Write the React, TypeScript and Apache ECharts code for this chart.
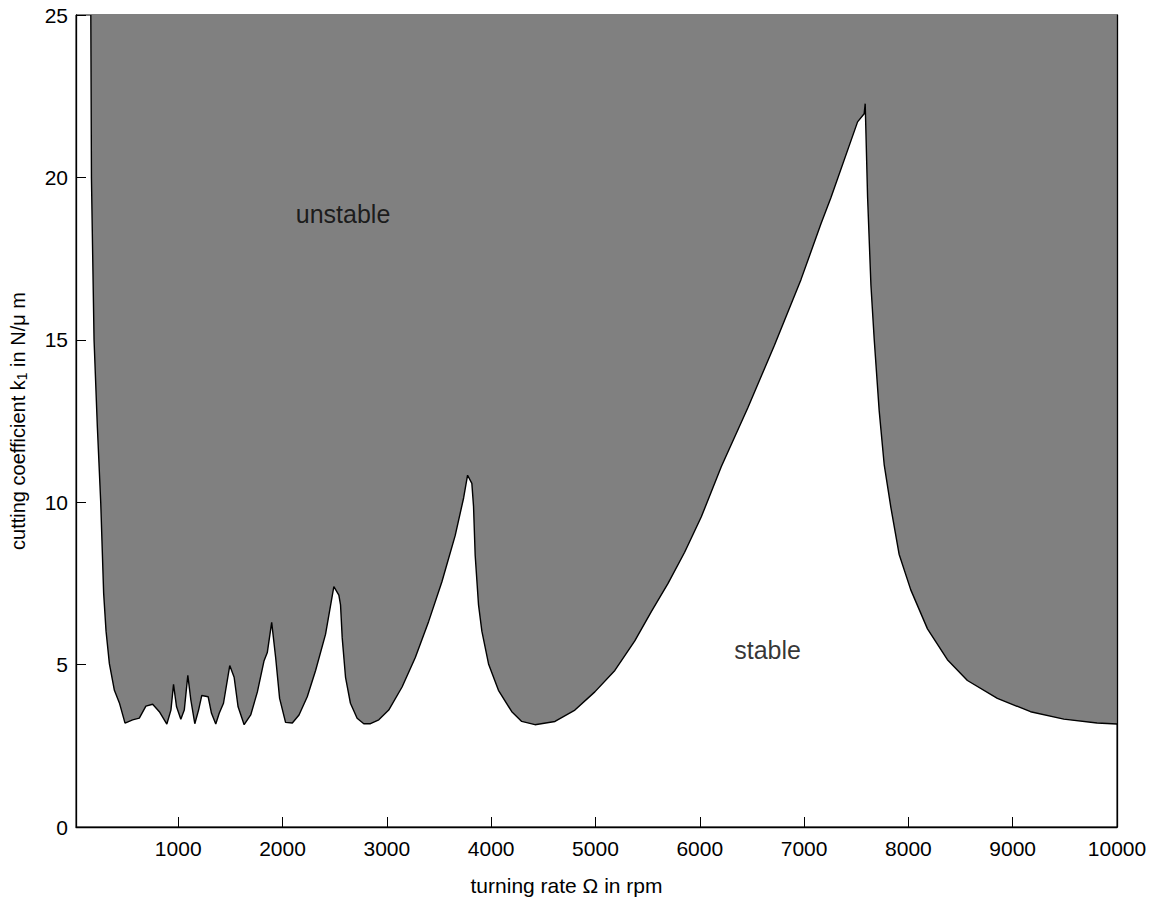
import React, { useEffect, useRef } from "react";
import * as echarts from "echarts";

// turning rate Ω (rpm) along the stability boundary
const omega = [162, 168, 193, 225, 257, 285, 308, 340, 388, 436, 490, 563, 627, 690, 755, 819, 891, 930, 955, 984, 1025, 1058, 1092, 1121, 1159, 1195, 1226, 1287, 1319, 1360, 1393, 1434, 1494, 1536, 1574, 1632, 1695, 1759, 1823, 1854, 1896, 1934, 1972, 2029, 2094, 2158, 2237, 2317, 2412, 2492, 2540, 2556, 2572, 2604, 2651, 2715, 2779, 2843, 2923, 3018, 3146, 3273, 3401, 3528, 3655, 3736, 3774, 3815, 3831, 3847, 3879, 3911, 3975, 4070, 4198, 4293, 4420, 4612, 4803, 4994, 5186, 5377, 5537, 5696, 5855, 6015, 6206, 6461, 6716, 6971, 7162, 7258, 7513, 7576, 7586, 7609, 7641, 7672, 7720, 7768, 7832, 7911, 8023, 8183, 8374, 8566, 8853, 9171, 9490, 9809, 10000];
// cutting coefficient k1 (N/µm) on the boundary
const k1 = [25, 20, 15, 12.3, 10, 7.2, 6.03, 5.03, 4.21, 3.82, 3.2, 3.3, 3.35, 3.72, 3.78, 3.55, 3.17, 3.6, 4.39, 3.7, 3.32, 3.6, 4.67, 3.91, 3.18, 3.6, 4.05, 4.01, 3.5, 3.17, 3.5, 3.81, 4.97, 4.61, 3.7, 3.15, 3.45, 4.16, 5.12, 5.37, 6.3, 5.22, 3.96, 3.22, 3.2, 3.45, 4.01, 4.82, 5.93, 7.4, 7.14, 6.84, 5.83, 4.61, 3.81, 3.35, 3.18, 3.18, 3.3, 3.6, 4.31, 5.22, 6.33, 7.55, 8.97, 10.13, 10.83, 10.58, 9.88, 8.36, 6.84, 6.03, 5.02, 4.21, 3.55, 3.25, 3.15, 3.25, 3.6, 4.16, 4.82, 5.73, 6.64, 7.5, 8.46, 9.55, 11.09, 12.91, 14.83, 16.86, 18.57, 19.38, 21.71, 21.96, 22.27, 19.38, 16.68, 15.03, 12.82, 11.16, 9.84, 8.4, 7.3, 6.1, 5.15, 4.51, 3.96, 3.55, 3.32, 3.2, 3.17];

const xTicks = [1000, 2000, 3000, 4000, 5000, 6000, 7000, 8000, 9000, 10000];
const regionNames = ["unstable", "stable"];
const regionOmega = [2580, 6650];
const regionK = [18.87, 5.45];

const FONT = "Liberation Sans, Arial, Helvetica, sans-serif";

export default function App() {
  const ref = useRef<HTMLDivElement>(null);
  useEffect(() => {
    if (!ref.current) return;
    const chart = echarts.init(ref.current, undefined, { renderer: "svg" });
    const boundary = omega.map((x, i) => [x, k1[i]]);
    const labels = regionNames.map((n, i) => ({ name: n, value: [regionOmega[i], regionK[i]] }));
    chart.setOption({
      animation: false,
      backgroundColor: "#ffffff",
      textStyle: { fontFamily: FONT },
      grid: {
        left: 73,
        right: 34,
        top: 15,
        bottom: 62,
        show: true,
        borderColor: "#000",
        borderWidth: 1,
        backgroundColor: "transparent",
      },
      xAxis: {
        type: "value",
        min: 20,
        max: 10000,
        z: 10,
        splitLine: { show: false },
        axisLine: { show: true, lineStyle: { color: "#000", width: 1.3 } },
        axisTick: { show: true, inside: true, length: 10, customValues: xTicks, lineStyle: { color: "#000", width: 1 } },
        axisLabel: {
          customValues: xTicks,
          formatter: (v: number) => String(v),
          color: "#000",
          fontSize: 21,
          fontFamily: FONT,
          margin: 11,
        },
        name: "turning rate Ω in rpm",
        nameLocation: "middle",
        nameGap: 48,
        nameTextStyle: { color: "#000", fontSize: 21, fontFamily: FONT, padding: [0, 60, 0, 0] },
      },
      yAxis: [
        {
          type: "value",
          min: 0,
          max: 25,
          interval: 5,
          z: 10,
          splitLine: { show: false },
          axisLine: { show: true, lineStyle: { color: "#000", width: 1.3 } },
          axisTick: { show: true, inside: true, length: 10, lineStyle: { color: "#000", width: 1 } },
          axisLabel: { color: "#000", fontSize: 21, fontFamily: FONT, margin: 8 },
          name: "cutting coefficient k{sub|1} in N/μ m",
          nameLocation: "middle",
          nameRotate: 90,
          nameGap: 47,
          nameTextStyle: {
            color: "#000",
            fontSize: 20,
            fontFamily: FONT,
            rich: { sub: { fontSize: 14, color: "#000", fontFamily: FONT, verticalAlign: "bottom", padding: [8, 0, 0, 0] } },
          },
        },
        {
          type: "value",
          min: 0,
          max: 25,
          position: "right",
          z: 10,
          splitLine: { show: false },
          axisLine: { show: true, lineStyle: { color: "#000", width: 1.3 } },
          axisTick: { show: false },
          axisLabel: { show: false },
        },
      ],
      series: [
        {
          type: "line",
          data: boundary,
          symbol: "none",
          smooth: false,
          clip: true,
          lineStyle: { color: "#000", width: 1.4 },
          areaStyle: { color: "#808080", opacity: 1, origin: "end" },
          z: 2,
        },
        {
          type: "scatter",
          data: labels,
          symbolSize: 0,
          z: 5,
          label: {
            show: true,
            position: "inside",
            formatter: "{b}",
            color: "#000",
            fontSize: 25,
            fontFamily: FONT,
          },
        },
      ],
    });
    return () => chart.dispose();
  }, []);
  return <div ref={ref} style={{ position: "fixed", left: 0, top: 0, width: 1151, height: 901, background: "#fff" }} />;
}
